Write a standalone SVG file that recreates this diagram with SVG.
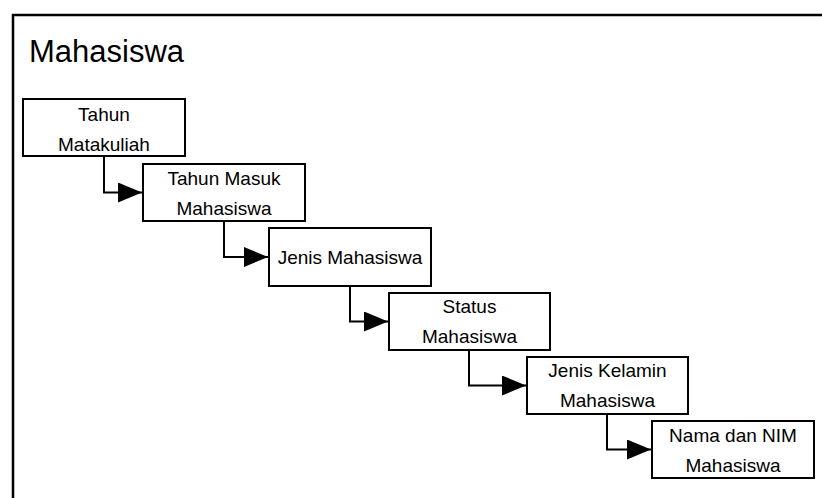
<svg xmlns="http://www.w3.org/2000/svg" width="822" height="498" viewBox="0 0 822 498">
<style>
.box{fill:#fff;stroke:#000;stroke-width:2}
.t{font-family:"Liberation Sans",Arial,sans-serif;font-size:19px;fill:#000;text-anchor:middle}
.title{font-family:"Liberation Sans",Arial,sans-serif;font-size:31px;fill:#000}
.c{fill:none;stroke:#000;stroke-width:2}
</style>
<defs>
<marker id="arr" markerWidth="24" markerHeight="20" refX="24" refY="10" orient="auto" markerUnits="userSpaceOnUse">
<path d="M0,0 L24,10 L0,20 Z" fill="#000"/>
</marker>
</defs>
<rect width="822" height="498" fill="#fff"/>
<g id="frame">
<path d="M13,498 V15 H822" fill="none" stroke="#000" stroke-width="2.5"/>
<text class="title" x="29" y="62">Mahasiswa</text>
</g>
<g id="connectors">
<path class="c" d="M104,156 V192.5 H142" marker-end="url(#arr)"/>
<path class="c" d="M224,221 V257 H268" marker-end="url(#arr)"/>
<path class="c" d="M350,286 V321.5 H388" marker-end="url(#arr)"/>
<path class="c" d="M469,350 V385.5 H526" marker-end="url(#arr)"/>
<path class="c" d="M607,414 V449.5 H651" marker-end="url(#arr)"/>
</g>
<g id="n1">
<rect class="box" x="23" y="99" width="162" height="57"/>
<text class="t" x="104" y="121">Tahun</text>
<text class="t" x="104" y="151">Matakuliah</text>
</g>
<g id="n2">
<rect class="box" x="143" y="164" width="162" height="57"/>
<text class="t" x="224" y="185">Tahun Masuk</text>
<text class="t" x="224" y="215">Mahasiswa</text>
</g>
<g id="n3">
<rect class="box" x="269" y="228" width="162" height="58"/>
<text class="t" x="350" y="264">Jenis Mahasiswa</text>
</g>
<g id="n4">
<rect class="box" x="389" y="293" width="161" height="57"/>
<text class="t" x="469.5" y="313">Status</text>
<text class="t" x="469.5" y="343">Mahasiswa</text>
</g>
<g id="n5">
<rect class="box" x="527" y="357" width="161" height="57"/>
<text class="t" x="607.5" y="377">Jenis Kelamin</text>
<text class="t" x="607.5" y="407">Mahasiswa</text>
</g>
<g id="n6">
<rect class="box" x="652" y="421" width="162" height="57"/>
<text class="t" x="733" y="442">Nama dan NIM</text>
<text class="t" x="733" y="472">Mahasiswa</text>
</g>
</svg>
